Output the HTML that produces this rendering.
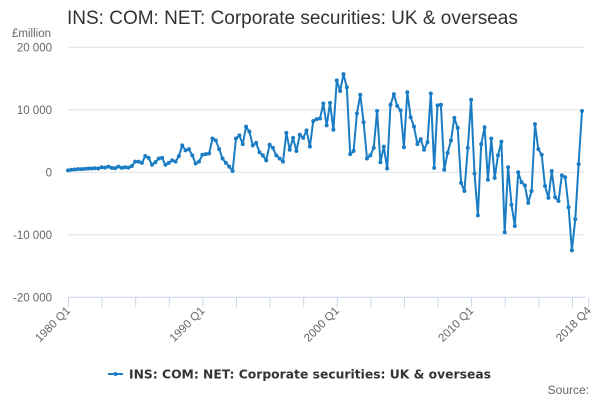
<!DOCTYPE html>
<html><head><meta charset="utf-8"><style>
body{margin:0;background:#fff;}
svg text{font-family:"Liberation Sans",sans-serif;}
</style></head><body>
<svg id="chart" width="600" height="400" xmlns="http://www.w3.org/2000/svg">
<text x="67" y="24" font-size="19" fill="#333">INS: COM: NET: Corporate securities: UK &amp; overseas</text>
<text x="12" y="37" font-size="11.5" fill="#666">£million</text>
<g id="grid"></g>
<g id="yticks"></g>
<g id="xaxis"></g>
<g id="series"></g>
<g>
<line x1="108" y1="374" x2="123" y2="374" stroke="#1a7dc4" stroke-width="2"/>
<circle cx="115.5" cy="374" r="2" fill="#1a7dc4"/>
<text x="129" y="378.5" font-size="12.5" font-weight="bold" fill="#333" style="font-family:'DejaVu Sans',sans-serif" textLength="362" lengthAdjust="spacingAndGlyphs">INS: COM: NET: Corporate securities: UK &amp; overseas</text>
</g>
<text x="589" y="394" font-size="12" fill="#666" text-anchor="end">Source:</text>
</svg>
<script>
const yTicks=[20000,10000,0,-10000,-20000];
const yTickLabels=["20 000","10 000","0","-10 000","-20 000"];
const xLabelIdx=[0,40,80,120,155];
const xLabels=["1980 Q1","1990 Q1","2000 Q1","2010 Q1","2018 Q4"];
const values=[300,400,450,500,500,550,600,600,650,600,
800,750,900,700,650,900,700,800,750,1000,
1700,1700,1500,2600,2300,1200,1600,2200,2300,1200,
1500,1900,1700,2600,4300,3500,3700,2700,1400,1700,
2800,2900,3000,5400,5100,3700,2200,1500,900,200,
5400,5900,4500,7300,6500,4300,4700,3200,2700,1900,
4400,3900,2700,2200,1700,6300,3600,5500,3400,6000,
5500,6700,4100,8200,8500,8600,11000,7500,11100,6800,
14700,13000,15700,13600,2900,3400,9400,12400,8000,2200,
2700,3900,9800,1600,4100,600,10800,12500,10600,9900,
4000,12800,8800,7300,4500,5300,3600,4800,12600,700,
10700,10800,400,3100,5100,8700,
7100,-1700,-3000,3900,11600,-200,-6900,4500,7200,-1200,
5400,-900,2700,4900,-9600,800,-5200,-8600,0,-1600,
-2100,-4900,-3000,7700,3700,2800,-2200,-4100,200,-4000,
-4600,-500,-800,-5600,-12500,-7500,1300,9800];
const NS="http://www.w3.org/2000/svg";
const X0=68,X1=582,Y0=172.3;
function xs(i){return X0+i*(X1-X0)/(values.length-1);}
function ys(v){return Y0-v*0.00625;}
function mk(tag,attrs,parent){const e=document.createElementNS(NS,tag);for(const k in attrs)e.setAttribute(k,attrs[k]);parent.appendChild(e);return e;}
const grid=document.getElementById('grid'),yt=document.getElementById('yticks'),xa=document.getElementById('xaxis'),se=document.getElementById('series');
yTicks.forEach((t,i)=>{
  if(t!==-20000){const l=mk('line',{x1:X0,x2:X1+3,y1:ys(t),y2:ys(t),stroke:'#e0e0e0','stroke-width':1},grid);
  
  }
  const tx=mk('text',{x:52,y:ys(t)+4,'font-size':11.5,fill:'#666','text-anchor':'end'},yt);
  tx.textContent=yTickLabels[i];
  
  
});
const base=ys(-20000);
mk('line',{x1:X0,x2:X1+3,y1:base,y2:base,stroke:'#ccd6eb','stroke-width':1},xa);
for(let i=0;i<values.length;i+=10){mk('line',{x1:xs(i)+0.5,x2:xs(i)+0.5,y1:base,y2:base+10,stroke:'#ccd6eb'},xa);}
mk('line',{x1:xs(155),x2:xs(155),y1:base,y2:base+10,stroke:'#ccd6eb'},xa);
xLabelIdx.forEach((q,i)=>{
  const x=xs(q)+3,y=base+14;
  const t=mk('text',{x:x,y:y,'font-size':11.5,fill:'#666','text-anchor':'end',transform:`rotate(-45 ${x} ${y})`},xa);
  t.textContent=xLabels[i];
  
  
});
const pts=values.map((v,i)=>xs(i).toFixed(1)+','+ys(v).toFixed(1)).join(' ');
const pl=mk('polyline',{points:pts,fill:'none',stroke:'#1a7dc4','stroke-width':2,'stroke-linejoin':'round'},se);


values.forEach((v,i)=>{
  const c=mk('circle',{cx:xs(i),cy:ys(v),r:2,fill:'#1a7dc4'},se);
  
  
});
</script>
</body></html>
